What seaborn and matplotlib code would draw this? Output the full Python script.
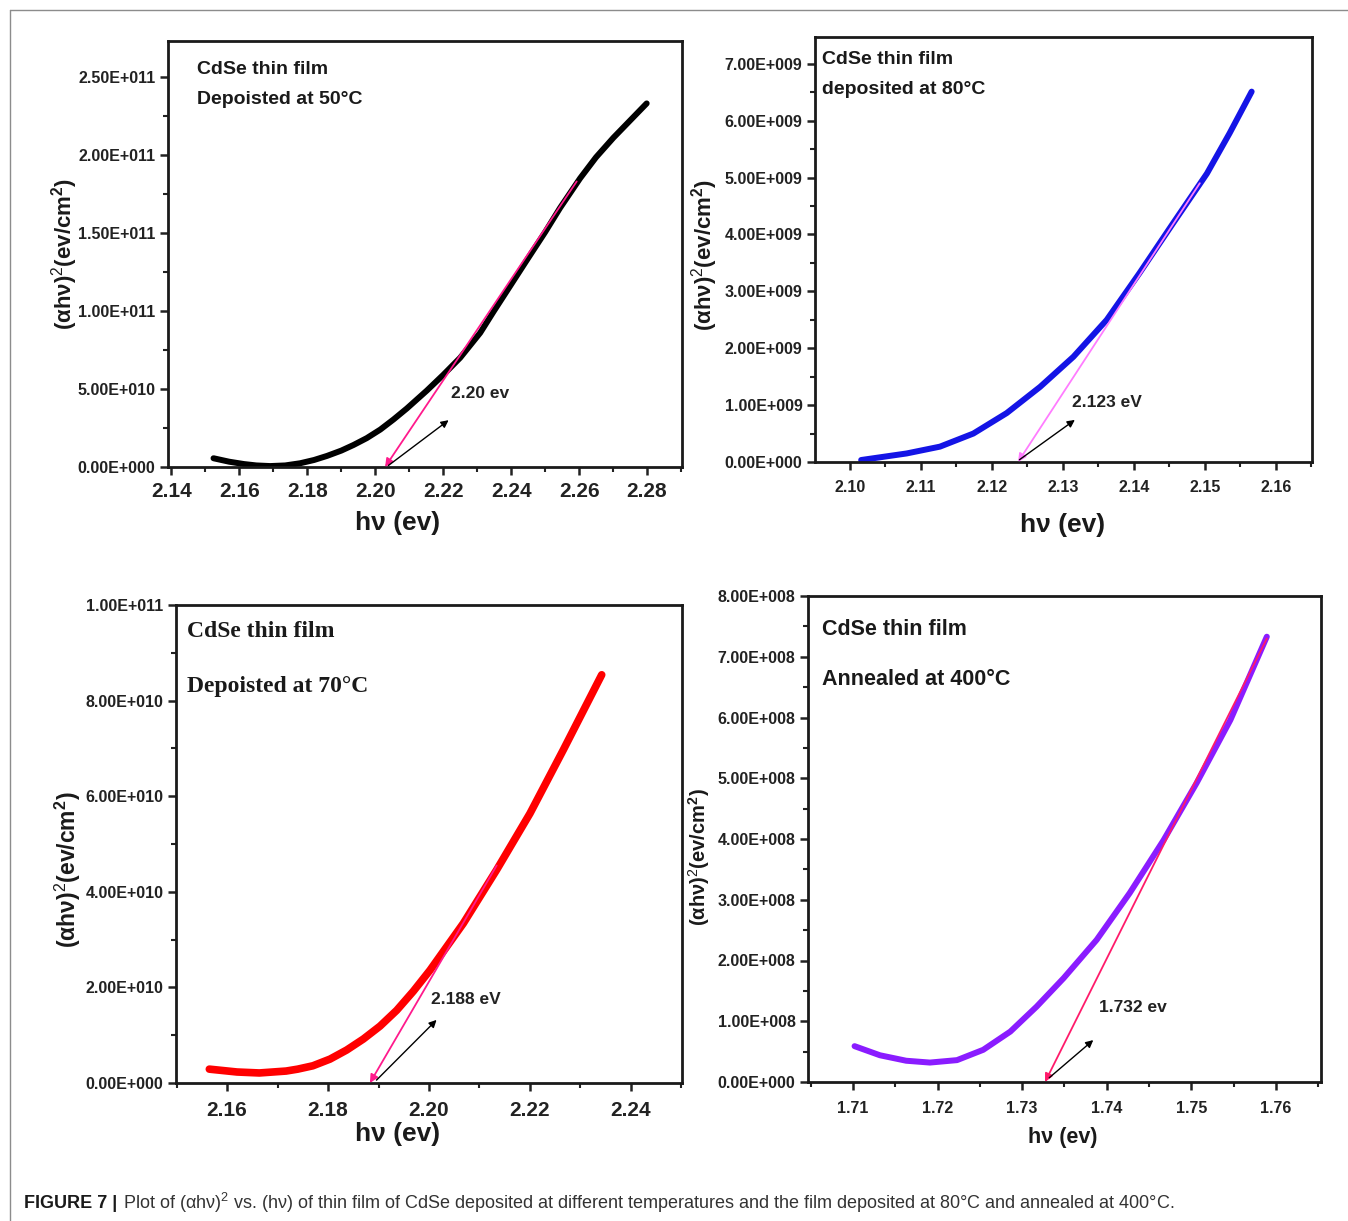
"""
Tauc plots (alpha*h*nu)^2 vs h*nu for CdSe thin films - 4 panels.
"""

import numpy as np
import matplotlib
matplotlib.use("Agg")
import matplotlib.pyplot as plt
import matplotlib.ticker as mticker
from matplotlib.lines import Line2D
import seaborn as sns

sns.set_style("ticks")
plt.rcParams.update({
    "font.family": ["Liberation Sans", "DejaVu Sans"],
    "mathtext.fontset": "custom",
    "mathtext.rm": "Liberation Sans",
    "mathtext.bf": "Liberation Sans:bold",
    "mathtext.it": "Liberation Sans:italic",
})

# ── data ────────────────────────────────────────────────────────────────────
# 50 C deposit
hv_50 = [2.1524, 2.1570, 2.1613, 2.1650, 2.1691, 2.1735, 2.1779, 2.1820, 2.1858,
         2.1900, 2.1936, 2.1975, 2.2015, 2.2054, 2.2093, 2.2152, 2.2200, 2.2250,
         2.2309, 2.2348, 2.2400, 2.2446, 2.2500, 2.2544, 2.2603, 2.2650, 2.2701,
         2.2750, 2.2799]
ah_50 = [0.56e10, 0.34e10, 0.19e10, 0.10e10, 0.06e10, 0.10e10, 0.24e10, 0.45e10,
         0.71e10, 1.05e10, 1.41e10, 1.85e10, 2.40e10, 3.05e10, 3.75e10, 4.90e10,
         5.90e10, 7.00e10, 8.60e10, 9.95e10, 11.7e10, 13.25e10, 15.05e10, 16.6e10,
         18.5e10, 19.85e10, 21.1e10, 22.2e10, 23.3e10]

# 80 C deposit
hv_80 = [2.1016, 2.1080, 2.1127, 2.1174, 2.1221, 2.1268, 2.1315, 2.1362, 2.1408,
         2.1455, 2.1503, 2.1535, 2.1566]
ah_80 = [0.035e9, 0.15e9, 0.27e9, 0.50e9, 0.86e9, 1.32e9, 1.85e9, 2.50e9, 3.32e9,
         4.19e9, 5.07e9, 5.78e9, 6.51e9]

# 70 C deposit
hv_70 = [2.1565, 2.1620, 2.1664, 2.1717, 2.1740, 2.1770, 2.1804, 2.1837, 2.1870,
         2.1903, 2.1936, 2.1969, 2.2002, 2.2068, 2.2134, 2.2200, 2.2266, 2.2342]
ah_70 = [0.29e10, 0.23e10, 0.21e10, 0.25e10, 0.29e10, 0.36e10, 0.50e10, 0.69e10,
         0.92e10, 1.19e10, 1.52e10, 1.92e10, 2.36e10, 3.34e10, 4.46e10, 5.64e10,
         6.97e10, 8.54e10]

# annealed 400 C
hv_400 = [1.7102, 1.7132, 1.7163, 1.7191, 1.7223, 1.7254, 1.7286, 1.7317, 1.7349,
          1.7388, 1.7427, 1.7467, 1.7506, 1.7546, 1.7589]
ah_400 = [0.59e8, 0.44e8, 0.35e8, 0.32e8, 0.36e8, 0.53e8, 0.83e8, 1.24e8, 1.71e8,
          2.34e8, 3.11e8, 3.98e8, 4.92e8, 5.96e8, 7.33e8]

# tangent (extrapolation) lines: from upper point down to the gap
tan_top_x = [2.2593, 2.1493, 2.2134, 1.7589]
tan_top_y = [1.83e11, 4.90e9, 4.55e10, 7.30e8]
gap_x = [2.2029, 2.1237, 2.1883, 1.7327]

# small black pointer arrows
ptr_x0 = [2.2039, 2.1239, 2.1896, 1.7332]
ptr_y0 = [0.10e10, 0.04e9, 0.06e10, 0.07e8]
ptr_x1 = [2.2216, 2.1317, 2.2015, 1.7384]
ptr_y1 = [3.00e10, 0.74e9, 1.32e10, 0.69e8]

gap_labels = ["2.20 ev", "2.123 eV", "2.188 eV", "1.732 ev"]
lab_x = [2.2224, 2.1313, 2.2004, 1.7391]
lab_y = [4.74e10, 1.05e9, 1.74e10, 1.23e8]

titles = [("CdSe thin film", "Depoisted at 50°C"),
          ("CdSe thin film", "deposited at 80°C"),
          ("CdSe thin film", "Depoisted at 70°C"),
          ("CdSe thin film", "Annealed at 400°C")]

xlims = [(2.139, 2.2903), (2.0951, 2.1651), (2.1499, 2.2501), (1.7047, 1.7653)]
ylims = [(0, 2.73e11), (0, 7.47e9), (0, 1.0e11), (0, 8.0e8)]
xsteps = [0.02, 0.01, 0.02, 0.01]
ysteps = [5e10, 1e9, 2e10, 1e8]


def sci_fmt(v, _):
    if v == 0:
        return "0.00E+000"
    e = int(np.floor(np.log10(abs(v)) + 1e-9))
    return f"{v / 10**e:.2f}E+{e:03d}"


W, H = 1348, 1221
fig = plt.figure(figsize=(W / 100, H / 100), dpi=100)

# axes boxes in pixels: left, top, right, bottom
boxes = [(168, 41, 682, 467), (815, 37, 1312, 462),
         (176, 605, 682, 1083), (808, 596, 1321, 1082)]

series = [(hv_50, ah_50, "#000000", 4.3, "#ff1a8c"),
          (hv_80, ah_80, "#1414e6", 4.3, "#ff7cff"),
          (hv_70, ah_70, "#ff0000", 5.5, "#ff1a8c"),
          (hv_400, ah_400, "#8a1cff", 4.3, "#ff1a6a")]

style = [
    dict(xt=15, yt=11.5, nt=14, nf="Liberation Sans", yl=16, xl=19, xpad=5,
         tpos=(0.056, 0.932, 0.862), ylc=(-0.171, 0.5), xlc=(0.447, -0.103)),
    dict(xt=11.5, yt=11.5, nt=14, nf="Liberation Sans", yl=16, xl=19, xpad=7,
         tpos=(0.014, 0.948, 0.876), ylc=(-0.191, 0.487), xlc=(0.499, -0.120)),
    dict(xt=15, yt=11.5, nt=17, nf="Liberation Serif", yl=16.5, xl=19, xpad=7,
         tpos=(0.022, 0.944, 0.830), ylc=(-0.184, 0.446), xlc=(0.437, -0.082)),
    dict(xt=11.5, yt=11.5, nt=15.5, nf="Liberation Sans", yl=14.5, xl=15.5, xpad=8,
         tpos=(0.027, 0.932, 0.828), ylc=(-0.187, 0.463), xlc=(0.497, -0.093)),
]

for i, (l, t, r, b) in enumerate(boxes):
    ax = fig.add_axes([l / W, 1 - b / H, (r - l) / W, (b - t) / H])
    hv, ah, col, lw, tcol = series[i]
    st = style[i]

    sns.lineplot(x=hv, y=ah, ax=ax, color=col, lw=lw, sort=False,
                 solid_capstyle="round", solid_joinstyle="round")

    # tangent extrapolation with arrow head at the gap
    ax.annotate("", xy=(gap_x[i], 0), xytext=(tan_top_x[i], tan_top_y[i]),
                arrowprops=dict(arrowstyle="-|>", color=tcol, lw=1.3,
                                mutation_scale=12, shrinkA=0, shrinkB=0))
    ax.annotate("", xy=(ptr_x1[i], ptr_y1[i]), xytext=(ptr_x0[i], ptr_y0[i]),
                arrowprops=dict(arrowstyle="-|>", color="black", lw=1.0,
                                mutation_scale=11, shrinkA=0, shrinkB=0))
    ax.text(lab_x[i], lab_y[i], gap_labels[i], fontsize=12.5, fontweight="bold",
            va="center", ha="left", color="#222222")

    tx, ty1, ty2 = st["tpos"]
    ax.text(tx, ty1, titles[i][0], transform=ax.transAxes, fontsize=st["nt"],
            fontweight="bold", family=st["nf"], va="center", color="#1a1a1a")
    ax.text(tx, ty2, titles[i][1], transform=ax.transAxes, fontsize=st["nt"],
            fontweight="bold", family=st["nf"], va="center", color="#1a1a1a")

    ax.set_xlim(*xlims[i])
    ax.set_ylim(*ylims[i])
    ax.xaxis.set_major_locator(mticker.MultipleLocator(xsteps[i]))
    ax.yaxis.set_major_locator(mticker.MultipleLocator(ysteps[i]))
    ax.xaxis.set_minor_locator(mticker.AutoMinorLocator(2))
    ax.yaxis.set_minor_locator(mticker.AutoMinorLocator(2))
    ax.yaxis.set_major_formatter(mticker.FuncFormatter(sci_fmt))
    ax.xaxis.set_major_formatter(mticker.FormatStrFormatter("%.2f"))

    ax.tick_params(which="major", direction="out", length=6, width=1.8,
                   pad=3, color="#222222")
    ax.tick_params(which="minor", direction="out", length=3.5, width=1.5,
                   color="#222222")
    ax.tick_params(axis="x", labelsize=st["xt"], pad=st["xpad"])
    ax.tick_params(axis="y", labelsize=st["yt"])
    for lab in ax.get_xticklabels() + ax.get_yticklabels():
        lab.set_fontweight("bold")
        lab.set_color("#222222")
    for sp in ax.spines.values():
        sp.set_linewidth(2.0)
        sp.set_color("#1a1a1a")
        sp.set_visible(True)

    ax.set_ylabel(r"(αhν)$^{2}$(ev/cm$^{\mathbf{2}}$)", fontsize=st["yl"],
                  fontweight="bold", color="#1a1a1a")
    ax.yaxis.set_label_coords(*st["ylc"])
    ax.set_xlabel("hν (ev)", fontsize=st["xl"], fontweight="bold",
                  color="#1a1a1a")
    ax.xaxis.set_label_coords(*st["xlc"])

# page frame (left and top edges)
fig.add_artist(Line2D([10 / W, 10 / W], [0, 1 - 10 / H], transform=fig.transFigure,
                      color="#8c8c8c", lw=1.0))
fig.add_artist(Line2D([10 / W, 1], [1 - 10 / H, 1 - 10 / H], transform=fig.transFigure,
                      color="#8c8c8c", lw=1.0))

# caption
cap1 = fig.text(24 / W, 1 - 1203 / H, "FIGURE 7 |", fontsize=13, fontweight="bold",
                va="center", ha="left", color="#1a1a1a")
ax0 = fig.axes[0]
ax0.annotate(r"Plot of (αhν)$^{2}$ vs. (hν) of thin film of CdSe deposited at different "
             "temperatures and the film deposited at 80°C and annealed at 400°C.",
             xy=(1, 0.5), xycoords=cap1, xytext=(4, 0), textcoords="offset points",
             va="center", ha="left", fontsize=13, color="#333333",
             annotation_clip=False)

fig.savefig("out.png", dpi=100)
